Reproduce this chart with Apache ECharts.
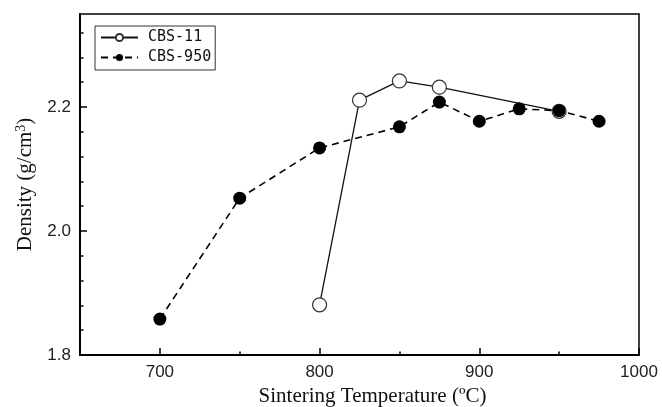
<!DOCTYPE html>
<html>
<head>
<meta charset="utf-8">
<script src="https://cdn.jsdelivr.net/npm/echarts@6/dist/echarts.min.js"></script>
<style>html,body{margin:0;padding:0;background:#fff}#c{width:662px;height:407px}</style>
</head>
<body>
<div id="c"></div>
<script>
// Data
var temps11 = [800, 825, 850, 875, 950];
var density11 = [1.881, 2.211, 2.242, 2.232, 2.193];
var temps950 = [700, 750, 800, 850, 875, 900, 925, 950, 975];
var density950 = [1.858, 2.053, 2.134, 2.168, 2.208, 2.177, 2.197, 2.194, 2.177];
var xMajorTicks = [700, 800, 900, 1000];
var xMinorTicks = [750, 850, 950];
var yMajorTicks = [1.8, 2.0, 2.2];
var yMinorTicks = [1.84, 1.88, 1.92, 1.96, 2.04, 2.08, 2.12, 2.16, 2.24, 2.28, 2.32];
var seriesNames = ['CBS-11', 'CBS-950'];

function pairs(xs, ys) { return xs.map(function (x, i) { return [x, ys[i]]; }); }

var chart = echarts.init(document.getElementById('c'), null, {renderer: 'canvas'});
var xBase = {type: 'value', min: 650, max: 1000, splitLine: {show: false}};
var yBase = {type: 'value', min: 1.8, max: 2.35, splitLine: {show: false}};
chart.setOption({
  animation: false,
  backgroundColor: '#fff',
  grid: {left: 80, right: 23, top: 14, bottom: 52, outerBoundsMode: 'none', containLabel: false,
    show: true, borderColor: '#000', borderWidth: 1.5, backgroundColor: 'transparent'},
  legend: {
    left: 95, top: 26, orient: 'vertical',
    borderColor: '#333', borderWidth: 1, padding: [4, 4, 5, 5],
    itemWidth: 37, itemHeight: 9, itemGap: 5,
    textStyle: {fontFamily: 'DejaVu Sans Mono', fontSize: 15, color: '#111', padding: [0, 0, 0, 5]},
    data: seriesNames
  },
  xAxis: [
    Object.assign({}, xBase, {
      name: 'Sintering Temperature (ºC)', nameLocation: 'middle', nameGap: 30,
      nameTextStyle: {fontFamily: 'Liberation Serif', fontSize: 21, color: '#111', padding: [0, 0, 0, 26]},
      axisLine: {show: true, onZero: false, lineStyle: {color: '#000', width: 2}},
      axisTick: {show: true, inside: true, length: 7, lineStyle: {color: '#000', width: 1.5}, customValues: xMajorTicks},
      axisLabel: {customValues: xMajorTicks, margin: 9, fontFamily: 'Liberation Sans', fontSize: 17, color: '#222',
        formatter: function (v) { return String(v); }}
    }),
    Object.assign({}, xBase, {
      position: 'bottom',
      axisLine: {show: false},
      axisTick: {show: true, inside: true, length: 3.5, lineStyle: {color: '#000', width: 1.5}, customValues: xMinorTicks},
      axisLabel: {show: false}
    })
  ],
  yAxis: [
    Object.assign({}, yBase, {
      name: '{a|Density (g/cm}{s|3}{a|)}', nameLocation: 'middle', nameGap: 42,
      nameTextStyle: {rich: {
        a: {fontFamily: 'Liberation Serif', fontSize: 21, color: '#111'},
        s: {fontFamily: 'Liberation Serif', fontSize: 14, color: '#111', verticalAlign: 'top', padding: [0, 0, 10, 0]}
      }},
      axisLine: {show: true, onZero: false, lineStyle: {color: '#000', width: 2}},
      axisTick: {show: true, inside: true, length: 7, lineStyle: {color: '#000', width: 1.5}, customValues: yMajorTicks},
      axisLabel: {customValues: yMajorTicks, margin: 9, fontFamily: 'Liberation Sans', fontSize: 17, color: '#222',
        formatter: function (v) { return Number(v).toFixed(1); }}
    }),
    Object.assign({}, yBase, {
      position: 'left',
      axisLine: {show: false},
      axisTick: {show: true, inside: true, length: 3.5, lineStyle: {color: '#000', width: 1.5}, customValues: yMinorTicks},
      axisLabel: {show: false}
    })
  ],
  series: [
    {
      name: seriesNames[0], type: 'line', xAxisIndex: 0, yAxisIndex: 0,
      data: pairs(temps11, density11),
      symbol: 'circle', symbolSize: 14,
      itemStyle: {color: '#fff', borderColor: '#333', borderWidth: 1.2},
      lineStyle: {color: '#111', width: 1.3, type: 'solid'},
      z: 2
    },
    {
      name: seriesNames[1], type: 'line', xAxisIndex: 0, yAxisIndex: 0,
      data: pairs(temps950, density950),
      symbol: 'circle', symbolSize: 13,
      itemStyle: {color: '#000', borderColor: '#000', borderWidth: 0},
      lineStyle: {color: '#000', width: 1.6, type: [7, 5]},
      z: 3
    }
  ]
});
</script>
</body>
</html>
